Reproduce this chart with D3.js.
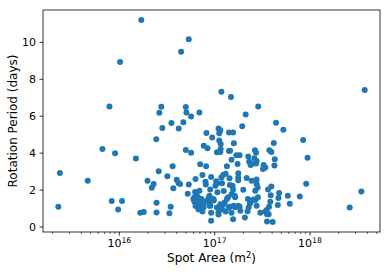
<!DOCTYPE html>
<html>
<head>
<meta charset="utf-8">
<script src="https://cdn.jsdelivr.net/npm/d3@7"></script>
<style>
    body { margin: 0; background: #fff; }
    #chart { width: 390px; height: 279px; }
    text { font-family: "DejaVu Sans", sans-serif; fill: #000; }
</style>
</head>
<body>
<div id="chart"></div>
<script>

// spot area (m^2) and rotation period (days)
let spotArea = [
    1.72e16, 5.41e16, 4.50e16, 1.03e16, 1.19e17, 1.50e17, 3.79e18, 7.98e15, 2.79e16, 5.04e16,
    2.90e17, 2.66e16, 5.12e16, 7.01e16, 5.73e16, 2.14e17, 4.75e16, 3.56e16, 4.46e17, 2.86e16,
    4.25e16, 1.11e17, 1.16e17, 5.32e17, 1.97e17, 8.30e16, 1.13e17, 1.43e17, 1.58e17, 2.47e16,
    9.53e16, 1.13e17, 1.17e17, 8.57e17, 4.22e17, 1.61e17, 6.73e15, 9.14e15, 1.51e16, 5.04e16,
    5.73e16, 7.78e16, 8.51e16, 1.07e17, 1.16e17, 1.43e17, 1.47e17, 1.17e17, 1.71e17, 1.85e17,
    1.52e17, 2.28e17, 2.68e17, 2.75e17, 2.64e17, 3.79e17, 3.98e17, 4.32e17, 9.53e17, 7.13e16,
    8.24e16, 1.36e17, 1.76e17, 2.33e17, 2.47e17, 2.41e17, 2.79e17, 2.75e17, 3.30e17, 3.44e17,
    3.25e17, 4.29e17, 3.67e16, 2.62e16, 3.23e16, 4.05e16, 4.22e16, 4.39e16, 3.73e16, 5.41e16,
    6.37e16, 7.53e16, 8.11e16, 8.17e16, 9.29e16, 1.05e17, 1.08e17, 1.03e17, 1.32e17, 1.19e17,
    1.45e17, 1.46e17, 1.56e17, 1.79e17, 1.79e17, 1.79e17, 2.19e17, 2.47e17, 2.79e17, 2.79e17,
    2.00e16, 2.32e16, 2.22e16, 4.72e15, 2.41e15, 2.32e15, 8.43e15, 1.08e16, 9.84e15, 1.68e16,
    1.83e16, 2.49e16, 2.49e16, 3.50e16, 3.39e16, 5.28e16, 6.31e16, 6.21e16, 6.58e16, 6.37e16,
    7.01e16, 7.06e16, 6.90e16, 7.36e16, 7.53e16, 8.51e16, 8.93e16, 9.08e16, 9.14e16, 9.29e16,
    9.29e16, 9.91e16, 1.08e17, 1.11e17, 1.14e17, 1.26e17, 1.29e17, 1.32e17, 1.40e17, 1.46e17,
    1.52e17, 1.58e17, 1.58e17, 1.64e17, 1.66e17, 1.85e17, 2.02e17, 2.10e17, 2.24e17, 2.26e17,
    2.37e17, 2.43e17, 2.59e17, 2.72e17, 2.79e17, 2.88e17, 3.05e17, 3.44e17, 3.56e17, 3.58e17,
    3.58e17, 3.76e17, 3.73e17, 3.88e17, 3.92e17, 3.98e17, 4.11e17, 4.65e17, 4.72e17, 4.80e17,
    5.92e17, 6.21e17, 7.91e17, 9.23e17, 2.64e18, 3.50e18, 3.67e17, 6.05e16, 6.58e16, 6.84e16,
    7.13e16, 6.21e16, 6.58e16, 7.24e16, 7.73e16, 8.38e16, 8.71e16, 9.08e16, 9.84e16, 7.73e16,
    6.84e16, 8.93e16, 1.07e17, 1.16e17, 1.21e17, 1.11e17, 1.25e17, 1.21e17, 2.86e17, 2.70e17,
    1.53e17, 1.66e17, 1.36e17, 1.25e17, 1.42e17, 1.60e17, 1.80e17, 1.88e17, 2.30e17, 2.49e17
];

let rotationPeriod = [
    11.18, 10.14, 9.47, 8.91, 7.30, 7.01, 7.39, 6.50, 6.49, 6.47,
    6.50, 6.16, 6.18, 6.18, 5.96, 6.07, 5.65, 5.60, 5.62, 5.33,
    5.31, 5.31, 5.22, 5.24, 5.43, 5.07, 5.05, 5.09, 5.09, 4.73,
    4.82, 4.66, 4.47, 4.69, 4.53, 4.51, 4.20, 3.97, 3.68, 4.15,
    4.00, 4.37, 4.24, 4.02, 4.04, 4.09, 4.11, 4.20, 3.86, 3.86,
    3.62, 3.79, 4.13, 3.99, 3.70, 4.13, 4.04, 3.64, 3.73, 3.37,
    3.26, 3.26, 3.39, 3.51, 3.39, 3.33, 3.55, 3.42, 3.33, 3.19,
    3.12, 3.30, 3.26, 2.99, 2.72, 2.54, 2.36, 2.30, 2.07, 2.28,
    2.57, 2.79, 2.43, 2.28, 2.68, 2.45, 2.34, 2.21, 2.86, 2.66,
    2.61, 2.25, 2.21, 2.88, 2.66, 2.50, 2.63, 2.48, 2.55, 2.30,
    2.48, 2.30, 2.10, 2.48, 2.90, 1.07, 1.38, 1.38, 0.92, 0.74,
    0.78, 1.29, 0.76, 1.07, 0.72, 1.78, 1.87, 1.58, 1.40, 1.11,
    1.94, 1.16, 0.94, 1.49, 0.82, 1.40, 1.67, 2.01, 1.12, 0.74,
    0.31, 1.41, 1.85, 0.65, 1.09, 1.92, 1.30, 0.82, 1.58, 1.07,
    0.74, 0.40, 2.01, 1.67, 1.05, 1.07, 1.99, 0.49, 0.83, 1.49,
    1.23, 1.38, 1.47, 1.45, 1.12, 1.58, 0.74, 0.82, 0.89, 0.67,
    0.27, 1.07, 0.67, 1.34, 1.70, 2.17, 0.25, 1.16, 1.54, 1.81,
    1.67, 1.23, 1.63, 2.32, 1.03, 1.90, 2.01, 1.49, 1.67, 1.54,
    1.36, 1.34, 1.12, 1.12, 1.21, 1.39, 1.54, 1.39, 1.49, 1.03,
    0.94, 1.12, 1.03, 1.21, 0.94, 0.76, 2.81, 2.34, 2.12, 1.94,
    1.76, 1.58, 1.49, 1.21, 1.03, 1.12, 1.12, 0.85, 1.03, 1.39
];

let xTickValues = [1e16, 1e17, 1e18];
let xTickExponents = ["16", "17", "18"];
let yTickValues = [0, 2, 4, 6, 8, 10];


class ScatterPlot {

    constructor(parentElement, areas, periods) {
        this.parentElement = parentElement;
        this.data = areas.map((a, i) => ({area: a, period: periods[i]}));
        this.initVis();
    }

    initVis() {
        let vis = this;

        vis.margin = {top: 10, right: 10, bottom: 47, left: 43};
        vis.width = 390 - vis.margin.left - vis.margin.right;
        vis.height = 279 - vis.margin.top - vis.margin.bottom;

        vis.svg = d3.select("#" + vis.parentElement).append("svg")
            .attr("width", 390)
            .attr("height", 279)
            .append("g")
            .attr("transform", `translate(${vis.margin.left}, ${vis.margin.top})`);

        // matplotlib style autoscale: 5% padding (in log space for x)
        let lx = d3.extent(vis.data, d => Math.log10(d.area));
        let padX = (lx[1] - lx[0]) * 0.05;
        let ly = d3.extent(vis.data, d => d.period);
        let padY = (ly[1] - ly[0]) * 0.05;

        vis.x = d3.scaleLog()
            .domain([Math.pow(10, lx[0] - padX), Math.pow(10, lx[1] + padX)])
            .range([0, vis.width]);

        vis.y = d3.scaleLinear()
            .domain([ly[0] - padY, ly[1] + padY])
            .range([vis.height, 0]);

        vis.updateVis();
    }

    updateVis() {
        let vis = this;

        // minor ticks on log axis
        let minor = [];
        for (let e = 15; e <= 18; e++) {
            for (let m = 2; m <= 9; m++) {
                let v = m * Math.pow(10, e);
                if (v > vis.x.domain()[0] && v < vis.x.domain()[1]) minor.push(v);
            }
        }

        vis.svg.append("g")
            .attr("class", "x-minor")
            .attr("transform", `translate(0, ${vis.height})`)
            .call(d3.axisBottom(vis.x).tickValues(minor).tickSize(2).tickFormat(""))
            .call(g => g.select(".domain").remove())
            .selectAll("line").attr("stroke-width", 0.6);

        // x axis
        let xAxisGroup = vis.svg.append("g")
            .attr("class", "x-axis")
            .attr("transform", `translate(0, ${vis.height})`)
            .call(d3.axisBottom(vis.x).tickValues(xTickValues).tickSize(3.5).tickPadding(3.5));

        xAxisGroup.select(".domain").remove();
        xAxisGroup.selectAll("line").attr("stroke-width", 0.8);
        xAxisGroup.selectAll("text")
            .attr("font-size", 11)
            .attr("font-family", "DejaVu Sans")
            .text("")
            .each(function(d, i) {
                let t = d3.select(this);
                t.append("tspan").text("10");
                t.append("tspan")
                    .attr("font-size", 7.7)
                    .attr("dy", "-0.45em")
                    .text(xTickExponents[i]);
            });

        // y axis
        let yAxisGroup = vis.svg.append("g")
            .attr("class", "y-axis")
            .call(d3.axisLeft(vis.y).tickValues(yTickValues).tickSize(3.5).tickPadding(3.5));

        yAxisGroup.select(".domain").remove();
        yAxisGroup.selectAll("line").attr("stroke-width", 0.8);
        yAxisGroup.selectAll("text")
            .attr("font-size", 11)
            .attr("font-family", "DejaVu Sans");

        // points
        vis.svg.selectAll(".dot")
            .data(vis.data)
            .enter().append("circle")
            .attr("class", "dot")
            .attr("cx", d => vis.x(d.area))
            .attr("cy", d => vis.y(d.period))
            .attr("r", 3)
            .attr("fill", "#1f77b4");

        // frame
        vis.svg.append("rect")
            .attr("x", 0)
            .attr("y", 0)
            .attr("width", vis.width)
            .attr("height", vis.height)
            .attr("fill", "none")
            .attr("stroke", "#000")
            .attr("stroke-width", 0.8);

        // axis labels
        let xl = vis.svg.append("text")
            .attr("x", vis.width / 2)
            .attr("y", vis.height + 30)
            .attr("text-anchor", "middle")
            .attr("font-size", 12);
        xl.append("tspan").text("Spot Area (m");
        xl.append("tspan").attr("font-size", 8.4).attr("dy", "-0.45em").text("2");
        xl.append("tspan").attr("dy", "0.38em").text(")");

        vis.svg.append("text")
            .attr("transform", `translate(${17 - vis.margin.left}, ${vis.height / 2}) rotate(-90)`)
            .attr("text-anchor", "middle")
            .attr("font-size", 12)
            .text("Rotation Period (days)");
    }
}

new ScatterPlot("chart", spotArea, rotationPeriod);

</script>
</body>
</html>
